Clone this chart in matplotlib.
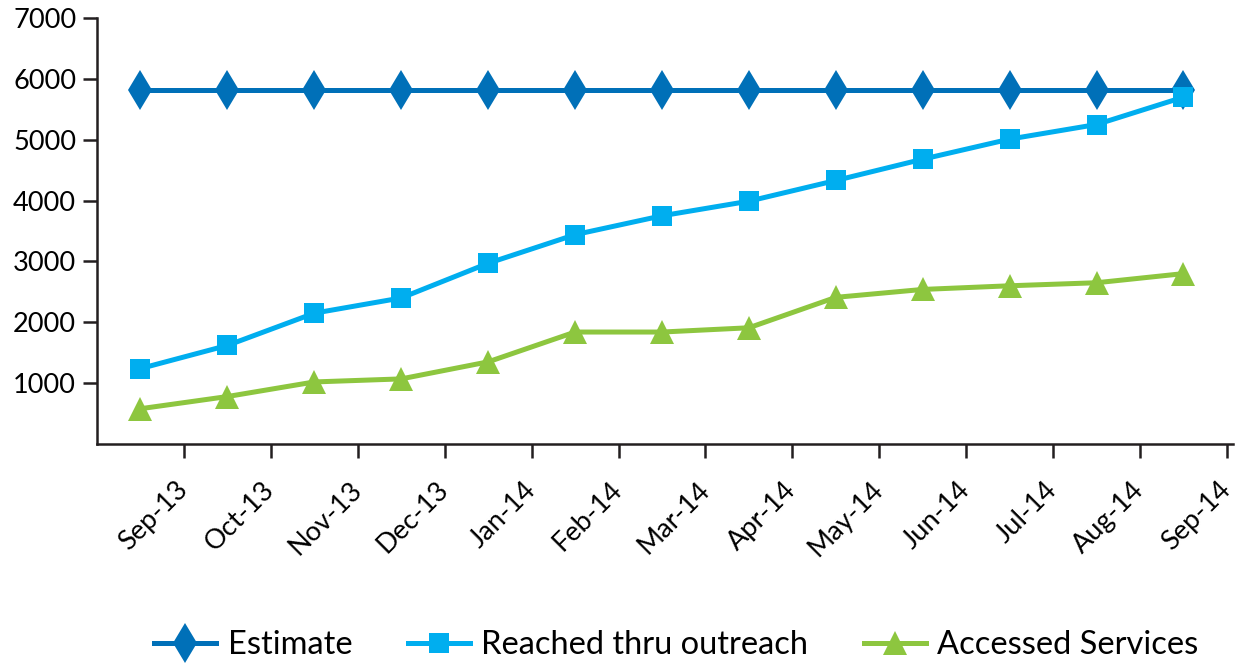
import numpy as np
import matplotlib
matplotlib.use("Agg")
import matplotlib.pyplot as plt

months = ["Sep-13", "Oct-13", "Nov-13", "Dec-13", "Jan-14", "Feb-14", "Mar-14",
          "Apr-14", "May-14", "Jun-14", "Jul-14", "Aug-14", "Sep-14"]
estimate = [5820] * 13
reached = [1240, 1620, 2150, 2400, 2970, 3440, 3750, 3990, 4330, 4680, 5010, 5250, 5700]
accessed = [580, 780, 1020, 1070, 1350, 1840, 1840, 1910, 2410, 2540, 2600, 2650, 2800]

plt.rcParams['font.family'] = ['Lato', 'DejaVu Sans']
dark = "#231F20"

fig = plt.figure(figsize=(12.37, 6.64), dpi=100)
ax = fig.add_axes([0.0784, 0.3313, 0.9184, 0.6416])

x = np.arange(len(months)) + 0.5
ax.plot(x, estimate, color="#0070B8", lw=3.6, marker="d", ms=20, mew=0, label="Estimate")
ax.plot(x, reached, color="#00AEEF", lw=3.6, marker="s", ms=15, mew=0, label="Reached thru outreach")
ax.plot(x, accessed, color="#8DC63F", lw=3.6, marker="^", ms=17, mew=0, label="Accessed Services")

ax.set_xlim(0, 13.07)
ax.set_ylim(0, 7000)
ax.set_yticks(range(1000, 8000, 1000))
ax.set_xticks(np.arange(1, 14))
ax.set_xticklabels(months, rotation=45, ha="right", va="center", rotation_mode="anchor")

for s in ["top", "right"]:
    ax.spines[s].set_visible(False)
for s in ["left", "bottom"]:
    ax.spines[s].set_color(dark)
    ax.spines[s].set_linewidth(1.8)
ax.tick_params(axis="both", direction="out", length=10, width=1.8, color=dark,
               labelsize=19.5, labelcolor="black", pad=5)
ax.tick_params(axis="x", pad=20)

ax.legend(loc="center", bbox_to_anchor=(0.51, -0.472), ncol=3, frameon=False,
          fontsize=23.5, handlelength=1.9, columnspacing=1.7, handletextpad=0.35)

fig.savefig("out.png", dpi=100)
